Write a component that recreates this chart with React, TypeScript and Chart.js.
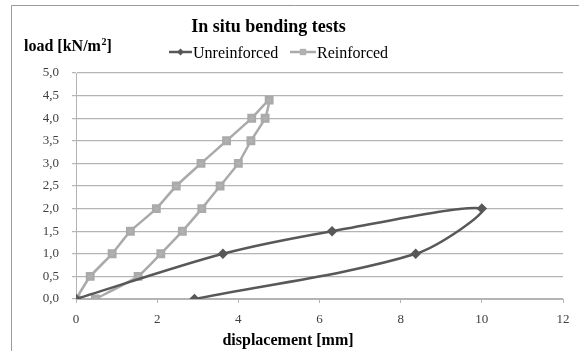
import React, { useEffect, useRef } from "react";
import { Chart, registerables } from "chart.js";

Chart.register(...registerables);

const titleText = "In situ bending tests";
const yTitle = "load [kN/m";
const xTitle = "displacement [mm]";
const seriesNames = ["Unreinforced", "Reinforced"];

const unreinforcedX = [0, 3.62, 6.31, 10.0, 8.37, 2.92];
const unreinforcedY = [0, 1.0, 1.5, 2.0, 1.0, 0];

const reinforcedX = [0, 0.35, 0.89, 1.34, 1.98, 2.47, 3.08, 3.71, 4.33, 4.76, 4.66, 4.31, 4.0, 3.55, 3.1, 2.62, 2.09, 1.53, 0.48];
const reinforcedY = [0, 0.5, 1.0, 1.5, 2.0, 2.5, 3.0, 3.5, 4.0, 4.4, 4.0, 3.5, 3.0, 2.5, 2.0, 1.5, 1.0, 0.5, 0];

const xTickLabels = ["0", "2", "4", "6", "8", "10", "12"];
const yTickLabels = ["0,0", "0,5", "1,0", "1,5", "2,0", "2,5", "3,0", "3,5", "4,0", "4,5", "5,0"];

const DARK = "#585858";
const LIGHT = "#aaaaaa";
const GRID = "#b4b4b4";
const SERIF = "'Liberation Serif', 'Times New Roman', serif";

function marker(ctx: CanvasRenderingContext2D, style: string, cx: number, cy: number, r: number) {
  ctx.beginPath();
  if (style === "rectRot") {
    ctx.moveTo(cx, cy - r);
    ctx.lineTo(cx + r, cy);
    ctx.lineTo(cx, cy + r);
    ctx.lineTo(cx - r, cy);
    ctx.closePath();
  } else {
    const s = r * Math.SQRT1_2;
    ctx.rect(cx - s, cy - s, 2 * s, 2 * s);
  }
  ctx.fill();
}

const textPlugin = {
  id: "customText",
  afterDraw(chart: any) {
    const ctx = chart.ctx;
    ctx.save();
    ctx.strokeStyle = "#9a9a9a";
    ctx.lineWidth = 1;
    ctx.beginPath();
    ctx.moveTo(11.5, 351);
    ctx.lineTo(11.5, 5.5);
    ctx.lineTo(579, 5.5);
    ctx.stroke();

    ctx.fillStyle = "#000";
    ctx.textBaseline = "alphabetic";
    ctx.font = `bold 18px ${SERIF}`;
    ctx.textAlign = "center";
    ctx.fillText(titleText, 268.5, 32);

    ctx.textAlign = "left";
    ctx.font = `bold 16px ${SERIF}`;
    let x = 24;
    ctx.fillText(yTitle, x, 51);
    x += ctx.measureText(yTitle).width;
    ctx.font = `bold 10px ${SERIF}`;
    ctx.fillText("2", x + 0.5, 45);
    x += ctx.measureText("2").width + 0.5;
    ctx.font = `bold 16px ${SERIF}`;
    ctx.fillText("]", x, 51);

    ctx.textAlign = "center";
    ctx.font = `bold 16px ${SERIF}`;
    ctx.fillText(xTitle, 288, 345);

    const items = [
      { x0: 169, x1: 192, color: DARK, style: "rectRot", r: 3.5, tx: 193 },
      { x0: 290, x1: 316, color: LIGHT, style: "rect", r: 4.5, tx: 317 },
    ];
    const ly = 52;
    items.forEach((it, i) => {
      ctx.strokeStyle = it.color;
      ctx.lineWidth = 2.5;
      ctx.beginPath();
      ctx.moveTo(it.x0, ly);
      ctx.lineTo(it.x1, ly);
      ctx.stroke();
      ctx.fillStyle = i === 1 ? "#b0b0b0" : it.color;
      marker(ctx, it.style, (it.x0 + it.x1) / 2, ly, it.r);
      ctx.fillStyle = "#000";
      ctx.textAlign = "left";
      ctx.font = `16px ${SERIF}`;
      ctx.fillText(seriesNames[i], it.tx, 58);
    });
    ctx.restore();
  },
};

export default function App() {
  const ref = useRef<HTMLCanvasElement | null>(null);
  useEffect(() => {
    if (!ref.current) return;
    const chart = new Chart(ref.current, {
      type: "scatter",
      data: {
        datasets: [
          {
            label: seriesNames[0],
            data: unreinforcedX.map((x, i) => ({ x, y: unreinforcedY[i] })),
            showLine: true,
            borderColor: DARK,
            backgroundColor: DARK,
            borderWidth: 2.5,
            pointStyle: "rectRot",
            pointRadius: 3.5,
            tension: 0.3,
          },
          {
            label: seriesNames[1],
            data: reinforcedX.map((x, i) => ({ x, y: reinforcedY[i] })),
            showLine: true,
            borderColor: LIGHT,
            backgroundColor: "#b0b0b0",
            borderWidth: 2.5,
            pointStyle: "rect",
            pointRadius: 4.5,
            tension: 0.15,
          },
        ],
      },
      options: {
        animation: false,
        responsive: false,
        devicePixelRatio: 1,
        layout: { padding: { left: 0, top: 73, right: 16, bottom: 0 } },
        plugins: { legend: { display: false }, title: { display: false }, tooltip: { enabled: false } },
        scales: {
          x: {
            type: "linear",
            min: 0,
            max: 12,
            afterFit: (s: any) => { s.height = 52; },
            afterBuildTicks: (s: any) => { s.ticks = xTickLabels.map((_, i) => ({ value: i * 2 })); },
            ticks: {
              callback: (v: any) => xTickLabels[Math.round(Number(v) / 2)],
              font: { family: SERIF, size: 13 },
              color: "#404040",
              padding: 9,
              maxRotation: 0,
            },
            grid: { drawOnChartArea: false, drawTicks: true, tickLength: 4, color: GRID },
            border: { display: true, color: GRID, width: 1 },
          },
          y: {
            type: "linear",
            min: 0,
            max: 5,
            afterFit: (s: any) => { s.width = 76; },
            afterBuildTicks: (s: any) => { s.ticks = yTickLabels.map((_, i) => ({ value: i * 0.5 })); },
            ticks: {
              callback: (v: any) => yTickLabels[Math.round(Number(v) * 2)],
              font: { family: SERIF, size: 13 },
              color: "#404040",
              padding: 13,
            },
            grid: { drawOnChartArea: true, drawTicks: true, tickLength: 4, color: GRID, lineWidth: 1.2 },
            border: { display: true, color: GRID, width: 1 },
          },
        },
      },
      plugins: [textPlugin],
    } as any);
    return () => chart.destroy();
  }, []);
  return (
    <div style={{ position: "fixed", left: 0, top: 0, width: 579, height: 351, background: "#fff" }}>
      <canvas ref={ref} width={579} height={351} style={{ width: 579, height: 351 }} />
    </div>
  );
}
